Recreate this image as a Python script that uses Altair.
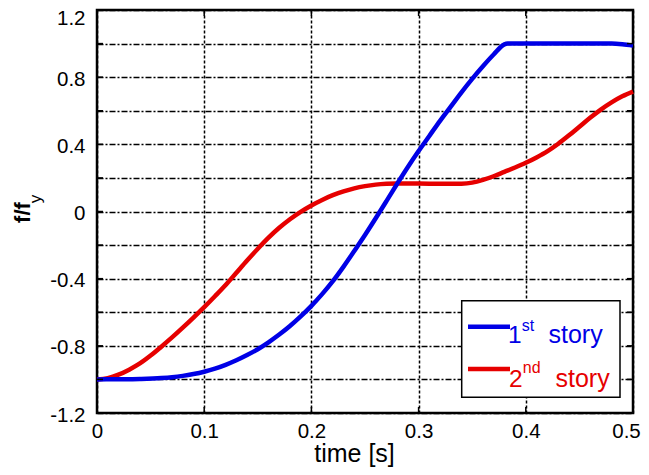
import json
import altair as alt
import pandas as pd

# ---------------- data ----------------
t_1st = [0.0, 0.02, 0.04, 0.06, 0.07, 0.08, 0.09, 0.1, 0.11, 0.12, 0.13, 0.14,
         0.15, 0.16, 0.17, 0.18, 0.19, 0.2, 0.21, 0.22, 0.23, 0.24, 0.25, 0.26,
         0.27, 0.28, 0.29, 0.3, 0.31, 0.32, 0.33, 0.34, 0.35, 0.36, 0.37, 0.38,
         0.383, 0.4, 0.45, 0.48, 0.49, 0.5]
f_1st = [-1.0, -0.999, -0.997, -0.992, -0.987, -0.979, -0.968, -0.954, -0.936, -0.913,
         -0.886, -0.855, -0.82, -0.779, -0.733, -0.682, -0.625, -0.562, -0.492, -0.415,
         -0.328, -0.235, -0.14, -0.04, 0.062, 0.165, 0.265, 0.36, 0.45, 0.54,
         0.625, 0.71, 0.79, 0.865, 0.935, 0.995, 1.0, 1.0, 1.0, 1.0, 0.996, 0.988]

t_2nd = [0.0, 0.01, 0.02, 0.03, 0.04, 0.05, 0.06, 0.07, 0.08, 0.09, 0.1, 0.11,
         0.12, 0.13, 0.14, 0.15, 0.16, 0.17, 0.18, 0.19, 0.2, 0.21, 0.22, 0.23,
         0.24, 0.25, 0.26, 0.27, 0.28, 0.3, 0.32, 0.34, 0.35, 0.36, 0.37, 0.38,
         0.39, 0.4, 0.41, 0.42, 0.43, 0.44, 0.45, 0.46, 0.47, 0.48, 0.49, 0.5]
f_2nd = [-1.0, -0.992, -0.972, -0.942, -0.905, -0.858, -0.805, -0.75, -0.692, -0.632,
         -0.57, -0.505, -0.438, -0.365, -0.292, -0.222, -0.156, -0.097, -0.046, -0.002,
         0.036, 0.069, 0.097, 0.12, 0.138, 0.151, 0.16, 0.165, 0.167, 0.167,
         0.165, 0.166, 0.172, 0.188, 0.21, 0.236, 0.262, 0.29, 0.322, 0.358,
         0.402, 0.452, 0.505, 0.558, 0.607, 0.65, 0.686, 0.714]

series_names = ["1st story", "2nd story"]
series_colors = ["#0000e6", "#e60000"]

x_tick_values = [0.0, 0.1, 0.2, 0.3, 0.4, 0.5]
x_tick_labels = ["0", "0.1", "0.2", "0.3", "0.4", "0.5"]
y_tick_values = [-1.2, -1.0, -0.8, -0.6, -0.4, -0.2, 0.0, 0.2, 0.4, 0.6, 0.8, 1.0, 1.2]
y_tick_labels = ["-1.2", "", "-0.8", "", "-0.4", "", "0", "", "0.4", "", "0.8", "", "1.2"]

# ---------------- layout ----------------
W, H = 536, 403
FONT = "Liberation Sans"
TICK = 6

df1 = pd.DataFrame({"t": t_1st, "v": f_1st, "series": series_names[0]})
df2 = pd.DataFrame({"t": t_2nd, "v": f_2nd, "series": series_names[1]})
xt = pd.DataFrame({"t": x_tick_values})
yt = pd.DataFrame({"v": y_tick_values})
one = pd.DataFrame({"k": [0]})

x_axis = alt.Axis(
    values=x_tick_values,
    labelExpr=f"{json.dumps(x_tick_labels)}[round(datum.value / 0.1)]",
    grid=True, gridDash=[3, 2], gridColor="black", gridWidth=1.5, gridOpacity=1,
    ticks=False, tickSize=0, domain=False,
    labelFont=FONT, labelFontSize=20.5, labelColor="black", labelPadding=8,
    labelOffset=alt.condition("datum.value == 0.5", alt.value(-7), alt.value(0)),
    labelFlush=False, labelOverlap=False,
    title="time [s]", titleFont=FONT, titleFontSize=25, titleFontWeight="normal",
    titleColor="black", titleX=257, titleY=48, titleAlign="center",
    titleBaseline="alphabetic",
)
y_axis = alt.Axis(
    values=y_tick_values,
    labelExpr=f"{json.dumps(y_tick_labels)}[round((datum.value + 1.2) / 0.2)]",
    grid=True, gridDash=[6, 2, 2, 2], gridColor="black", gridWidth=1.5, gridOpacity=1,
    ticks=False, tickSize=0, domain=False,
    labelFont=FONT, labelFontSize=20.5, labelColor="black", labelPadding=12,
    labelOffset=alt.condition("datum.value == 1.2", alt.value(8.5), alt.value(2)),
    labelOverlap=False, title=None,
)
X = alt.X("t:Q", scale=alt.Scale(domain=[0, 0.5], nice=False, zero=False), axis=x_axis)
Y = alt.Y("v:Q", scale=alt.Scale(domain=[-1.2, 1.2], nice=False, zero=False), axis=y_axis)

line2 = alt.Chart(df2).mark_line(color=series_colors[1], strokeWidth=4.5,
                                 interpolate="monotone").encode(x=X, y=Y)
line1 = alt.Chart(df1).mark_line(color=series_colors[0], strokeWidth=4.5,
                                 interpolate="monotone").encode(x=X, y=Y)

tick_style = dict(color="black", strokeWidth=1.5)
yt_left = alt.Chart(yt).mark_rule(**tick_style).encode(y=Y, x=alt.value(0), x2=alt.value(TICK))
yt_right = alt.Chart(yt).mark_rule(**tick_style).encode(y=Y, x=alt.value(W - TICK), x2=alt.value(W))
xt_bottom = alt.Chart(xt).mark_rule(**tick_style).encode(x=X, y=alt.value(H - TICK), y2=alt.value(H))
xt_top = alt.Chart(xt).mark_rule(**tick_style).encode(x=X, y=alt.value(0), y2=alt.value(TICK))

# y-axis title f/f_y
ytitle_main = alt.Chart(one).mark_text(
    text="f/f", font=FONT, fontSize=22, fontWeight="bold", angle=270,
    align="center", baseline="alphabetic", color="black",
).encode(x=alt.value(-67), y=alt.value(202.5))
ytitle_sub = alt.Chart(one).mark_text(
    text="y", font=FONT, fontSize=17, angle=270,
    align="center", baseline="alphabetic", color="black",
).encode(x=alt.value(-56.5), y=alt.value(189))

# legend
leg_box = alt.Chart(one).mark_rect(fill="white", stroke="black", strokeWidth=1.5).encode(
    x=alt.value(364.7), x2=alt.value(523), y=alt.value(290.7), y2=alt.value(387.3))
leg_line1 = alt.Chart(one).mark_rule(color=series_colors[0], strokeWidth=4.5).encode(
    x=alt.value(371), x2=alt.value(413), y=alt.value(316.7))
leg_line2 = alt.Chart(one).mark_rule(color=series_colors[1], strokeWidth=4.5).encode(
    x=alt.value(371), x2=alt.value(413), y=alt.value(359))


def txt(s, x, y, size, color):
    return alt.Chart(one).mark_text(
        text=s, font=FONT, fontSize=size, align="left", baseline="alphabetic", color=color
    ).encode(x=alt.value(x), y=alt.value(y))


leg_texts = [
    txt("1", 411, 333.3, 24.5, series_colors[0]),
    txt("st", 424.8, 320.7, 16, series_colors[0]),
    txt("story", 451.5, 333.3, 25, series_colors[0]),
    txt("2", 412, 376.7, 24.5, series_colors[1]),
    txt("nd", 425.8, 363.3, 16, series_colors[1]),
    txt("story", 458.5, 376.7, 25, series_colors[1]),
]

chart = alt.layer(
    line2, line1, yt_left, yt_right, xt_bottom, xt_top,
    ytitle_main, ytitle_sub, leg_box, leg_line1, leg_line2, *leg_texts,
).properties(
    width=W, height=H,
    autosize=alt.AutoSizeParams(type="none"),
    padding={"left": 89, "top": 2, "right": 8, "bottom": 54},
    background="white",
).configure_view(stroke="black", strokeWidth=2.5)

chart.save("out.html", embed_options={"renderer": "svg", "actions": False})
